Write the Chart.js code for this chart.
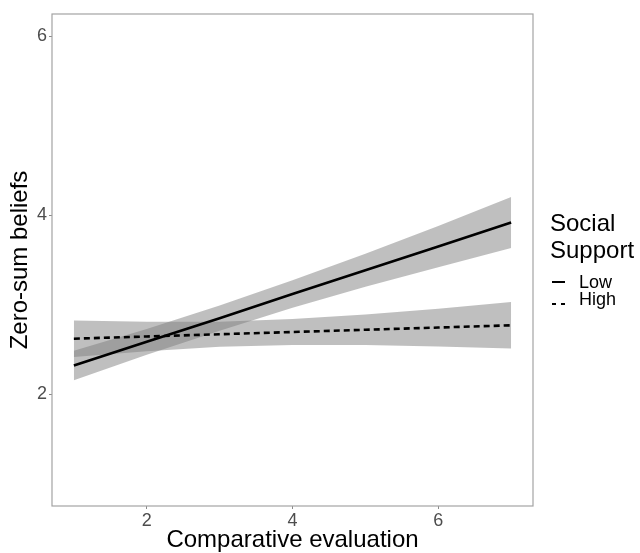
<!DOCTYPE html>
<html><head><meta charset="utf-8">
<script src="https://cdn.jsdelivr.net/npm/chart.js@4/dist/chart.umd.min.js"></script>
<style>
html,body{margin:0;padding:0;background:#fff;}
#wrap{position:relative;width:640px;height:553px;overflow:hidden;}
canvas{position:absolute;left:0;top:0;}
.leg{position:absolute;font-family:"Liberation Sans",Arial,sans-serif;color:#000;white-space:nowrap;}
.key{position:absolute;height:0;}
</style></head><body>
<div id="wrap">
<canvas id="c" width="640" height="553"></canvas>
<div class="leg" style="left:550px;top:210px;font-size:24px;line-height:26.6px;">Social<br>Support</div>
<div class="key" style="left:552px;top:281px;width:13px;border-top:2.6px solid #000;"></div>
<div class="leg" style="left:579px;top:273px;font-size:18px;line-height:18px;">Low</div>
<div class="key" style="left:552px;top:302.5px;width:4px;border-top:2.6px solid #000;"></div>
<div class="key" style="left:561px;top:302.5px;width:4px;border-top:2.6px solid #000;"></div>
<div class="leg" style="left:579px;top:290px;font-size:18px;line-height:18px;">High</div>
</div>
<script>
// Data
const xValues   = [1, 2, 3, 4, 5, 6, 7];
const lowFit    = [2.32, 2.585, 2.85, 3.12, 3.385, 3.65, 3.92];
const lowUpper  = [2.485, 2.73, 2.99, 3.275, 3.57, 3.88, 4.205];
const lowLower  = [2.155, 2.44, 2.71, 2.965, 3.2, 3.42, 3.635];
const highFit   = [2.62, 2.645, 2.67, 2.695, 2.72, 2.745, 2.77];
const highUpper = [2.825, 2.81, 2.81, 2.84, 2.89, 2.956, 3.03];
const highLower = [2.415, 2.48, 2.53, 2.55, 2.55, 2.534, 2.51];
const xTicks = [2, 4, 6];
const yTicks = [2, 4, 6];
const seriesNames = ['Low', 'High'];

const pts = arr => xValues.map((x, i) => ({x: x, y: arr[i]}));
const FONT = '"Liberation Sans", Arial, sans-serif';
const bandFill = 'rgba(128,128,128,0.5)';
const none = 'rgba(0,0,0,0)';

const borderPlugin = {
  id: 'panelBorder',
  afterDraw(chart) {
    const {ctx, chartArea: a} = chart;
    ctx.save();
    ctx.strokeStyle = '#a3a3a3';
    ctx.lineWidth = 1.2;
    ctx.strokeRect(a.left, a.top, a.right - a.left, a.bottom - a.top);
    ctx.restore();
  }
};

new Chart(document.getElementById('c'), {
  type: 'line',
  data: {
    datasets: [
      {label: seriesNames[0] + ' upper', data: pts(lowUpper), fill: 1, backgroundColor: bandFill, borderColor: none, borderWidth: 0, pointRadius: 0, order: 2},
      {label: seriesNames[0] + ' lower', data: pts(lowLower), fill: false, borderColor: none, borderWidth: 0, pointRadius: 0, order: 2},
      {label: seriesNames[1] + ' upper', data: pts(highUpper), fill: 3, backgroundColor: bandFill, borderColor: none, borderWidth: 0, pointRadius: 0, order: 2},
      {label: seriesNames[1] + ' lower', data: pts(highLower), fill: false, borderColor: none, borderWidth: 0, pointRadius: 0, order: 2},
      {label: seriesNames[0], data: pts(lowFit), fill: false, borderColor: '#000', borderWidth: 2.6, pointRadius: 0, order: 0},
      {label: seriesNames[1], data: pts(highFit), fill: false, borderColor: '#000', borderWidth: 2.6, borderDash: [6, 4], pointRadius: 0, order: 0}
    ]
  },
  options: {
    responsive: false,
    animation: false,
    devicePixelRatio: 1,
    layout: {padding: {top: 14, right: 107, bottom: 0, left: 0}},
    plugins: {legend: {display: false}, tooltip: {enabled: false}},
    scales: {
      x: {
        type: 'linear', min: 0.7, max: 7.3,
        afterBuildTicks: s => { s.ticks = xTicks.map(v => ({value: v})); },
        afterFit: s => { s.height = 47; },
        grid: {drawOnChartArea: false, drawTicks: true, tickLength: 3, color: '#8a8a8a', tickWidth: 1},
        border: {display: false},
        ticks: {font: {family: FONT, size: 18}, color: '#4d4d4d', padding: 1, maxRotation: 0, autoSkip: false},
        title: {display: true, text: 'Comparative evaluation', font: {family: FONT, size: 24}, color: '#000', padding: {top: 0, bottom: -2}}
      },
      y: {
        type: 'linear', min: 0.75, max: 6.25,
        afterBuildTicks: s => { s.ticks = yTicks.map(v => ({value: v})); },
        afterFit: s => { s.width = 52; },
        grid: {drawOnChartArea: false, drawTicks: true, tickLength: 3, color: '#8a8a8a', tickWidth: 1},
        border: {display: false},
        ticks: {font: {family: FONT, size: 18}, color: '#4d4d4d', padding: 2, autoSkip: false},
        title: {display: true, text: 'Zero-sum beliefs', font: {family: FONT, size: 24}, color: '#000', padding: {top: 6, bottom: 0}}
      }
    }
  },
  plugins: [borderPlugin]
});
</script>
</body></html>
